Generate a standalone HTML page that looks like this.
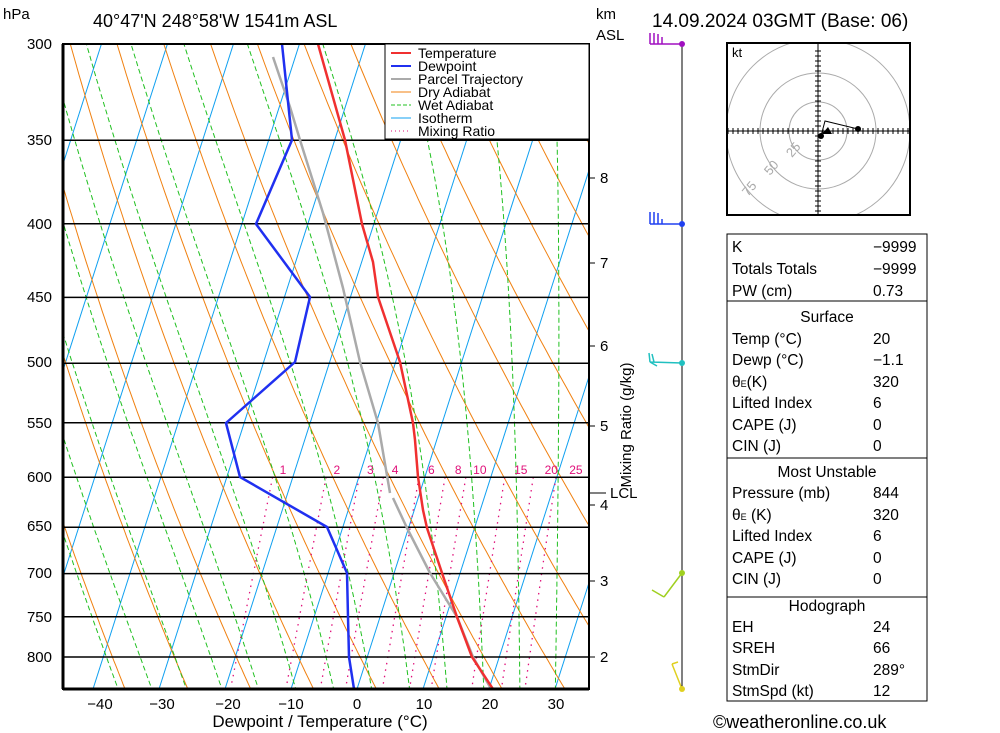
<!DOCTYPE html>
<html><head><meta charset="utf-8"><style>
body{margin:0;background:#fff}
svg{display:block;font-family:"Liberation Sans",sans-serif}
</style></head><body>
<svg id="s" width="1000" height="733" viewBox="0 0 1000 733" xmlns="http://www.w3.org/2000/svg">
<defs><clipPath id="pc"><rect x="63" y="44" width="526" height="645"/></clipPath></defs>
<rect width="1000" height="733" fill="#fff"/>
<g id="bg" clip-path="url(#pc)"></g>
<g id="prof" clip-path="url(#pc)" fill="none" stroke-linejoin="round">
<polyline stroke="#aaa" stroke-width="2.5" points="273,57 290,107 300,140 323,213 343,288 360,362 378,423 390,493"/>
<polyline stroke="#aaa" stroke-width="2.5" points="393,498 407,528 430,573 457,617 473,657 490,687"/>
<polyline stroke="#f03030" stroke-width="2.5" points="318,44 345,140 362,224 373,262 378,297 400,362 413,423 415,440 418,477 423,510 427,528 442,573 457,617 472,657 493,689"/>
<polyline stroke="#2030f0" stroke-width="2.5" points="282,44 292,140 256,224 310,297 295,362 226,423 240,477 327,527 347,573 348,617 349,657 354,689"/>
</g>
<g id="fg"></g>
<rect x="63" y="44" width="526" height="645" fill="none" stroke="#000" stroke-width="2"/>
<line x1="63" y1="44" x2="63" y2="689" stroke="#000" stroke-width="3"/>
<line x1="63" y1="689" x2="589" y2="689" stroke="#000" stroke-width="3"/>
<g font-size="15" fill="#000" text-anchor="end">
<text x="52" y="49">300</text><text x="52" y="145">350</text><text x="52" y="229">400</text><text x="52" y="302">450</text><text x="52" y="367">500</text><text x="52" y="428">550</text><text x="52" y="482">600</text><text x="52" y="531">650</text><text x="52" y="578">700</text><text x="52" y="622">750</text><text x="52" y="662">800</text>
</g>
<g font-size="15" fill="#000" text-anchor="middle">
<text x="100" y="709">−40</text><text x="162" y="709">−30</text><text x="228" y="709">−20</text><text x="291" y="709">−10</text><text x="357" y="709">0</text><text x="424" y="709">10</text><text x="490" y="709">20</text><text x="556" y="709">30</text>
</g>
<text x="320" y="727" font-size="17" text-anchor="middle">Dewpoint / Temperature (°C)</text>
<text x="3" y="19" font-size="15">hPa</text>
<text x="93" y="27" font-size="18">40°47'N  248°58'W  1541m  ASL</text>
<text x="652" y="27" font-size="19">14.09.2024  03GMT  (Base: 06)</text>
<text x="596" y="19" font-size="15">km</text><text x="596" y="40" font-size="15">ASL</text>
<g font-size="15">
<text x="600" y="183">8</text><text x="600" y="268">7</text><text x="600" y="351">6</text><text x="600" y="431">5</text><text x="600" y="510">4</text><text x="600" y="586">3</text><text x="600" y="662">2</text>
<text x="610" y="498">LCL</text>
</g>
<g stroke="#000"><line x1="589" y1="178" x2="595" y2="178"/><line x1="589" y1="263" x2="595" y2="263"/><line x1="589" y1="346" x2="595" y2="346"/><line x1="589" y1="426" x2="595" y2="426"/><line x1="589" y1="505" x2="595" y2="505"/><line x1="589" y1="581" x2="595" y2="581"/><line x1="589" y1="657" x2="595" y2="657"/><line x1="589" y1="493" x2="606" y2="493"/></g>
<text transform="translate(631,425) rotate(-90)" font-size="15" text-anchor="middle">Mixing Ratio (g/kg)</text>
<rect x="385" y="44" width="204" height="95" fill="#fff" stroke="#000"/>
<g font-size="14">
<line x1="391" y1="53" x2="411" y2="53" stroke="#f03030" stroke-width="2"/><text x="418" y="58">Temperature</text>
<line x1="391" y1="66" x2="411" y2="66" stroke="#2030f0" stroke-width="2"/><text x="418" y="71">Dewpoint</text>
<line x1="391" y1="79" x2="411" y2="79" stroke="#aaa" stroke-width="2"/><text x="418" y="84">Parcel Trajectory</text>
<line x1="391" y1="92" x2="411" y2="92" stroke="#f08010"/><text x="418" y="97">Dry Adiabat</text>
<line x1="391" y1="105" x2="411" y2="105" stroke="#20c020" stroke-dasharray="4,2"/><text x="418" y="110">Wet Adiabat</text>
<line x1="391" y1="118" x2="411" y2="118" stroke="#10a0f0"/><text x="418" y="123">Isotherm</text>
<line x1="391" y1="131" x2="411" y2="131" stroke="#e0107a" stroke-dasharray="1,3"/><text x="418" y="136">Mixing Ratio</text>
</g>
<line x1="682" y1="44" x2="682" y2="689" stroke="#000"/>
<g stroke="#a010c0" stroke-width="1.5" fill="none"><path d="M650,44H682 M650,44V33 M654,44V33 M658,44V34 M662,44V37"/></g><circle cx="682" cy="44" r="3" fill="#a010c0"/>
<g stroke="#2040f0" stroke-width="1.5" fill="none"><path d="M650,224H682 M650,224V212 M654,224V212 M658,224V213 M662,224V219"/></g><circle cx="682" cy="224" r="3" fill="#2040f0"/>
<g stroke="#20c0c0" stroke-width="1.5" fill="none"><path d="M650,362L682,363 M650,362L649,353 M654,362L652,354 M650,362L657,366"/></g><circle cx="682" cy="363" r="3" fill="#20c0c0"/>
<g stroke="#a0d020" stroke-width="1.5" fill="none"><path d="M682,573L664,597 M664,597L652,590"/></g><circle cx="682" cy="573" r="3" fill="#a0d020"/>
<g stroke="#e0d020" stroke-width="1.5" fill="none"><path d="M682,689L672,664 M672,664L678,662"/></g><circle cx="682" cy="689" r="3" fill="#e0d020"/>
<rect x="727" y="43" width="183" height="172" fill="#fff" stroke="#000" stroke-width="2"/>
<clipPath id="hc"><rect x="728" y="44" width="181" height="170"/></clipPath>
<g clip-path="url(#hc)">
<g fill="none" stroke="#aaa"><circle cx="818" cy="131" r="29"/><circle cx="818" cy="131" r="58"/><circle cx="818" cy="131" r="92"/></g>
<g id="hod" stroke="#000"><line x1="728" y1="131" x2="909" y2="131"/><line x1="818" y1="44" x2="818" y2="214"/></g>
</g>
<g font-size="13" fill="#aaa"><text transform="translate(792,158) rotate(-50)">25</text><text transform="translate(770,176) rotate(-50)">50</text><text transform="translate(748,197) rotate(-50)">75</text></g>
<polyline points="821,136 825,121 858,129" fill="none" stroke="#000"/>
<circle cx="858" cy="129" r="3"/><circle cx="821" cy="136" r="3"/><path d="M822,134 L828,127 L832,134Z"/>
<text x="732" y="57" font-size="13">kt</text>
<g fill="none" stroke="#000"><rect x="727" y="234" width="200" height="67"/><rect x="727" y="301" width="200" height="157"/><rect x="727" y="458" width="200" height="139"/><rect x="727" y="597" width="200" height="104"/></g>
<g font-size="15.5">
<text x="732" y="252">K</text><text x="873" y="252">−9999</text>
<text x="732" y="274">Totals Totals</text><text x="873" y="274">−9999</text>
<text x="732" y="296">PW (cm)</text><text x="873" y="296">0.73</text>
<text x="827" y="322" text-anchor="middle">Surface</text>
<text x="732" y="344">Temp (°C)</text><text x="873" y="344">20</text>
<text x="732" y="365">Dewp (°C)</text><text x="873" y="365">−1.1</text>
<text x="732" y="387">θ<tspan font-size="9">E</tspan>(K)</text><text x="873" y="387">320</text>
<text x="732" y="408">Lifted Index</text><text x="873" y="408">6</text>
<text x="732" y="430">CAPE (J)</text><text x="873" y="430">0</text>
<text x="732" y="451">CIN (J)</text><text x="873" y="451">0</text>
<text x="827" y="477" text-anchor="middle">Most Unstable</text>
<text x="732" y="498">Pressure (mb)</text><text x="873" y="498">844</text>
<text x="732" y="520">θ<tspan font-size="9">E</tspan> (K)</text><text x="873" y="520">320</text>
<text x="732" y="541">Lifted Index</text><text x="873" y="541">6</text>
<text x="732" y="563">CAPE (J)</text><text x="873" y="563">0</text>
<text x="732" y="584">CIN (J)</text><text x="873" y="584">0</text>
<text x="827" y="611" text-anchor="middle">Hodograph</text>
<text x="732" y="632">EH</text><text x="873" y="632">24</text>
<text x="732" y="653">SREH</text><text x="873" y="653">66</text>
<text x="732" y="675">StmDir</text><text x="873" y="675">289°</text>
<text x="732" y="696">StmSpd (kt)</text><text x="873" y="696">12</text>
</g>
<text x="713" y="728" font-size="18">©weatheronline.co.uk</text>
</svg>
<script>
(function(){
var NS="http://www.w3.org/2000/svg",bg=document.getElementById('bg');
function Y(p){return 44+625*Math.log(p/300);}
function X(T,p){return 357+6.6*T+0.32*(689-Y(p));}
function pl(pts,st,w,da){var e=document.createElementNS(NS,'polyline');e.setAttribute('points',pts.map(function(a){return a[0].toFixed(1)+','+a[1].toFixed(1)}).join(' '));e.setAttribute('fill','none');e.setAttribute('stroke',st);e.setAttribute('stroke-width',w||1);if(da)e.setAttribute('stroke-dasharray',da);bg.appendChild(e);}
var ps=[];for(var p=250;p<=900;p+=5)ps.push(p);
for(var T=-140;T<=50;T+=10)pl([[X(T,900),Y(900)],[X(T,250),Y(250)]],'#10a0f0',1);
for(var th=230;th<=480;th+=10){var a=[];ps.forEach(function(p){var Tk=th*Math.pow(p/1000,0.286);a.push([X(Tk-273.15,p),Y(p)]);});pl(a,'#f08010',1);}
function es(T){return 6.112*Math.exp(17.67*T/(T+243.5));}
for(var tw=-25;tw<=40;tw+=5){var a=[],T=tw,p=1000;var Tk,rs,dT;while(p>250){Tk=T+273.15;rs=0.622*es(T)/(p-es(T));dT=(287*Tk+2.5e6*rs)/(1004+2.5e6*2.5e6*rs*0.622/(287*Tk*Tk))/p;if(p<=900)a.push([X(T,p),Y(p)]);T-=dT*2;p-=2;}pl(a,'#20c020',1,'5,3');}
var ws=[1,2,3,4,6,8,10,15,20,25];
ws.forEach(function(w){var a=[];for(var p=600;p<=850;p+=5){var e=w*p/(622+w),l=Math.log(e/6.112),T=243.5*l/(17.67-l);a.push([X(T,p),Y(p)]);}pl(a,'#e0107a',1.3,'1.5,5');
var e=w*600/(622+w),l=Math.log(e/6.112),T=243.5*l/(17.67-l);var t=document.createElementNS(NS,'text');t.setAttribute('x',X(T,600)+10+w*0.4);t.setAttribute('y',474);t.setAttribute('font-size',12);t.setAttribute('fill','#e0107a');t.setAttribute('text-anchor','middle');t.textContent=w;bg.appendChild(t);});
[300,350,400,450,500,550,600,650,700,750,800].forEach(function(p){pl([[63,Y(p)],[589,Y(p)]],'#000',1.5);});
var h=document.getElementById('hod');
for(var i=-18;i<=18;i++){if(!i)continue;var l=document.createElementNS(NS,'line');l.setAttribute('x1',818+i*5);l.setAttribute('x2',818+i*5);l.setAttribute('y1',128);l.setAttribute('y2',134);h.appendChild(l);
if(Math.abs(i)<=16){var m=document.createElementNS(NS,'line');m.setAttribute('y1',131+i*5);m.setAttribute('y2',131+i*5);m.setAttribute('x1',815);m.setAttribute('x2',821);h.appendChild(m);}}
})();
</script>
</body></html>
